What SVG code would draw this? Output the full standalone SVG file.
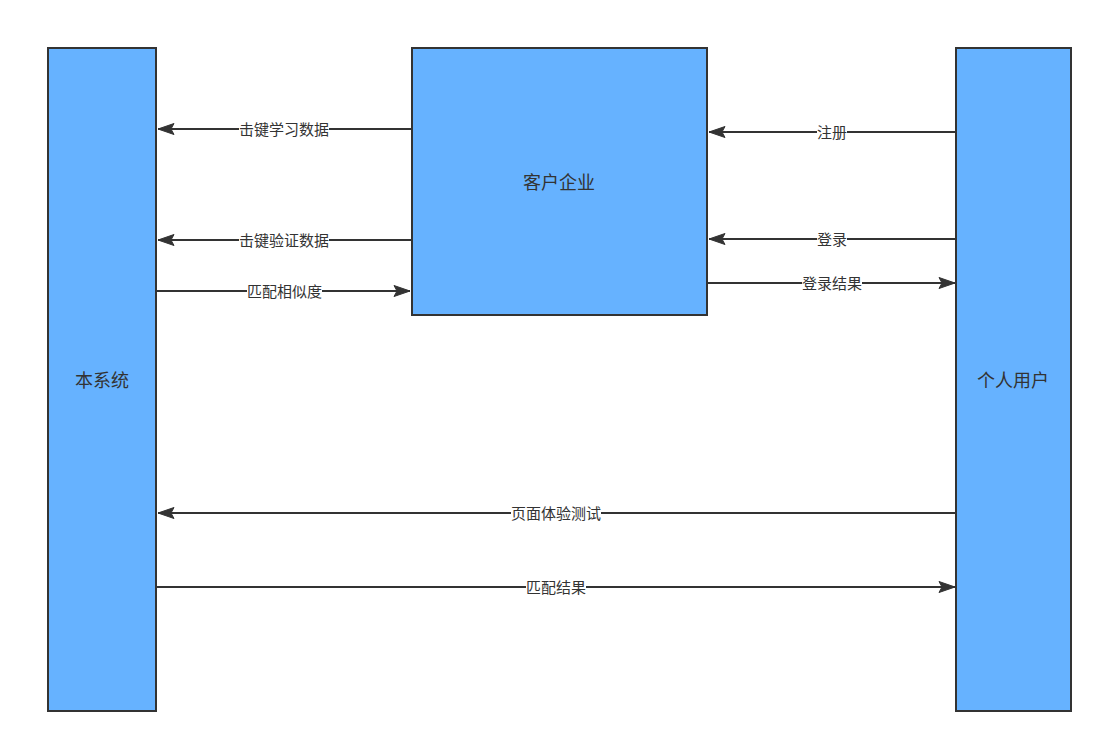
<svg xmlns="http://www.w3.org/2000/svg" width="1103" height="743" viewBox="0 0 1103 743">
<style>
.box{fill:#66B2FF;stroke:#333333;stroke-width:2}
.edge{fill:none;stroke:#333333;stroke-width:2}
.bt{font-family:"Liberation Sans","Noto Sans CJK SC",sans-serif;font-size:18px;fill:#333333;text-anchor:middle;dominant-baseline:central}
.lt{font-family:"Liberation Sans","Noto Sans CJK SC",sans-serif;font-size:15px;fill:#333333;text-anchor:middle;dominant-baseline:central}
.lb{fill:#ffffff}
</style>
<defs>
<marker id="arr" markerUnits="userSpaceOnUse" markerWidth="17" markerHeight="12" refX="16" refY="5.5" orient="auto" overflow="visible">
<path d="M0,0 L16,5.5 L0,11 L3,5.5 Z" fill="#333333" stroke="#333333" stroke-width="1"/>
</marker>
</defs>
<rect width="1103" height="743" fill="#ffffff"/>
<g id="node-system"><rect class="box" x="48" y="48" width="108" height="663"/><text class="bt" x="102" y="381">本系统</text></g>
<g id="node-enterprise"><rect class="box" x="412" y="48" width="295" height="267"/><text class="bt" x="559" y="183">客户企业</text></g>
<g id="node-user"><rect class="box" x="956" y="48" width="115" height="663"/><text class="bt" x="1013" y="381">个人用户</text></g>
<g id="connectors">
<line class="edge" x1="411" y1="129" x2="158" y2="129" marker-end="url(#arr)"/>
<line class="edge" x1="411" y1="240" x2="158" y2="240" marker-end="url(#arr)"/>
<line class="edge" x1="157" y1="291" x2="410" y2="291" marker-end="url(#arr)"/>
<line class="edge" x1="955" y1="132" x2="709" y2="132" marker-end="url(#arr)"/>
<line class="edge" x1="955" y1="239" x2="709" y2="239" marker-end="url(#arr)"/>
<line class="edge" x1="708" y1="283" x2="955" y2="283" marker-end="url(#arr)"/>
<line class="edge" x1="955" y1="513" x2="158" y2="513" marker-end="url(#arr)"/>
<line class="edge" x1="157" y1="587" x2="955" y2="587" marker-end="url(#arr)"/>
<rect class="lb" x="239" y="121" width="90" height="16"/><text class="lt" x="284" y="129">击键学习数据</text>
<rect class="lb" x="239" y="232" width="90" height="16"/><text class="lt" x="284" y="240">击键验证数据</text>
<rect class="lb" x="247" y="283" width="75" height="16"/><text class="lt" x="284.5" y="291">匹配相似度</text>
<rect class="lb" x="817" y="124" width="30" height="16"/><text class="lt" x="832" y="132">注册</text>
<rect class="lb" x="817" y="231" width="30" height="16"/><text class="lt" x="832" y="239">登录</text>
<rect class="lb" x="802" y="275" width="60" height="16"/><text class="lt" x="832" y="283">登录结果</text>
<rect class="lb" x="511" y="505" width="90" height="16"/><text class="lt" x="556" y="513">页面体验测试</text>
<rect class="lb" x="526" y="579" width="60" height="16"/><text class="lt" x="556" y="587">匹配结果</text>
</g>
</svg>
